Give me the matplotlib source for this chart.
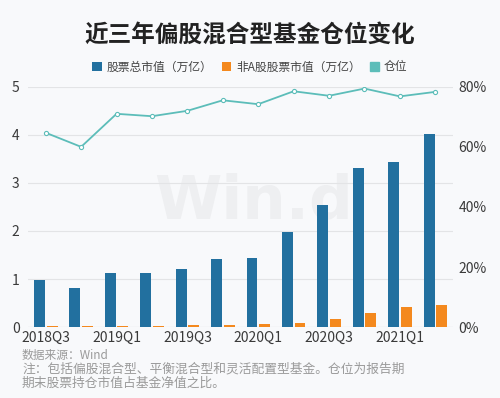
import matplotlib
matplotlib.use("Agg")
import matplotlib.pyplot as plt
from matplotlib.patches import Patch
import numpy as np

plt.rcParams['font.family'] = ['Noto Sans CJK SC', 'DejaVu Sans']

# quarters 2018Q3 .. 2021Q2
quarters = ["2018Q3", "2018Q4", "2019Q1", "2019Q2", "2019Q3", "2019Q4",
            "2020Q1", "2020Q2", "2020Q3", "2020Q4", "2021Q1", "2021Q2"]
stock_total = [0.98, 0.81, 1.12, 1.13, 1.22, 1.42, 1.44, 1.97, 2.55, 3.31, 3.43, 4.02]
non_a_stock = [0.03, 0.03, 0.03, 0.03, 0.04, 0.05, 0.07, 0.09, 0.17, 0.29, 0.42, 0.47]
position = [64.7, 60.0, 71.0, 70.2, 72.0, 75.5, 74.2, 78.5, 77.0, 79.4, 76.8, 78.3]

bg = "#f8f9fb"
blue = "#22709f"
orange = "#f4891e"
teal = "#5cbdb9"

fig = plt.figure(figsize=(5, 3.98), dpi=100, facecolor=bg)
ax = fig.add_axes([0.056, 0.178, 0.85, 0.604], facecolor=bg)
ax2 = ax.twinx()
ax2.patch.set_alpha(0)

# watermark behind the bars
ax.text(0.53, 0.52, "Win.d", transform=ax.transAxes, fontsize=44,
        fontweight="bold", color="#eeeff1", ha="center", va="center",
        family="DejaVu Sans", zorder=1)

x = np.arange(len(quarters))
w = 0.31
ax.bar(x - 0.175, stock_total, width=w, color=blue, zorder=3, label="股票总市值（万亿）")
ax.bar(x + 0.18, non_a_stock, width=w, color=orange, zorder=3, label="非A股股票市值（万亿）")

ax2.plot(x, position, color=teal, lw=1.3, marker="o", markersize=3,
         markerfacecolor="white", markeredgecolor=teal, markeredgewidth=0.8,
         zorder=4, label="仓位")

ax.set_xlim(-0.5, 11.5)
ax.set_ylim(0, 5)
ax2.set_ylim(0, 80)
ax.set_yticks([0, 1, 2, 3, 4, 5])
ax2.set_yticks([0, 20, 40, 60, 80])
ax2.set_yticklabels(["0%", "20%", "40%", "60%", "80%"])
ax.set_xticks(x[::2])
ax.set_xticklabels(quarters[::2])

ax.grid(axis="y", color="#e3e4e6", lw=0.8, zorder=0)
for a in (ax, ax2):
    for s in a.spines.values():
        s.set_visible(False)
ax.tick_params(axis="y", length=0, labelsize=10, colors="#3a3a3a", pad=6)
ax2.tick_params(axis="y", length=0, labelsize=10, colors="#3a3a3a", pad=4)
ax.tick_params(axis="x", length=0, labelsize=10, colors="#3a3a3a", pad=3)
ax.axhline(0, color="#d8d9db", lw=0.8, zorder=2)

fig.text(0.5, 0.913, "近三年偏股混合型基金仓位变化", ha="center", va="center",
         fontsize=17, fontweight="bold", color="#222222")

h1, l1 = ax.get_legend_handles_labels()
handles = h1 + [Patch(color=teal)]
labels = l1 + ["仓位"]
fig.legend(handles, labels, loc="center", bbox_to_anchor=(0.5, 0.832), ncol=3,
           frameon=False, fontsize=8.5, handlelength=0.8, handleheight=0.8,
           handletextpad=0.4, columnspacing=0.8, labelcolor="#444444")

foot = "#9a9a9a"
fig.text(0.044, 0.108, "数据来源：Wind", fontsize=8.5, color=foot, va="center")
fig.text(0.044, 0.072, "注：包括偏股混合型、平衡混合型和灵活配置型基金。仓位为报告期",
         fontsize=9.2, color=foot, va="center")
fig.text(0.044, 0.038, "期末股票持仓市值占基金净值之比。",
         fontsize=9.2, color=foot, va="center")

fig.savefig("out.png", dpi=100, facecolor=bg)
